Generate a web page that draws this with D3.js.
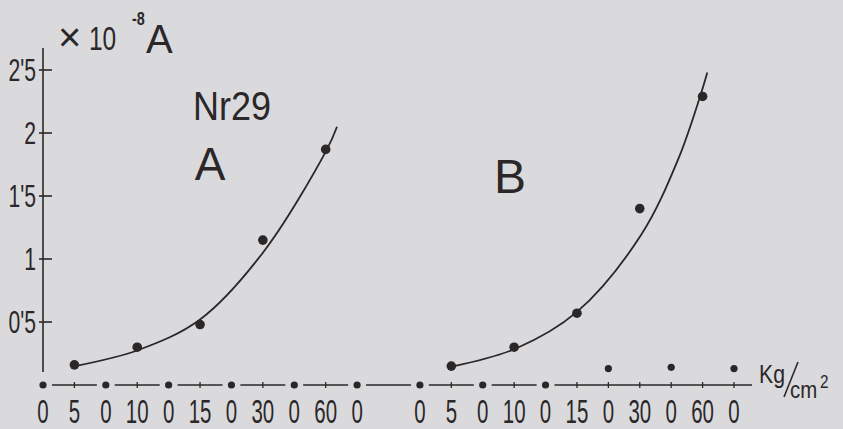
<!DOCTYPE html>
<html>
<head>
<meta charset="utf-8">
<script src="https://cdn.jsdelivr.net/npm/d3@7"></script>
<style>
  html, body { margin: 0; padding: 0; background: #dadadc; }
  svg { display: block; }
  text { font-family: "Liberation Sans", Arial, sans-serif; fill: #2b2729; }
</style>
</head>
<body>
<div class="chart"></div>
<script>
// pressure steps (kg/cm2) under each group, 0 = released
const pressureLabels = ['0', '5', '0', '10', '0', '15', '0', '30', '0', '60', '0'];
const groupOffsets = { A: 0, B: 12 };

// current (x10^-8 A) measured at the loaded steps 5, 10, 15, 30, 60
const loadedSteps = [1, 3, 5, 7, 9];
const valuesA = [0.16, 0.3, 0.48, 1.15, 1.87];
const valuesB = [0.15, 0.3, 0.57, 1.4, 2.29];

// current at the released (0) steps
const releasedSteps = [0, 2, 4, 6, 8, 10];
const releasedA = [0, 0, 0, 0, 0, 0];
const releasedB = [0, 0, 0, 0.13, 0.14, 0.13];

// hand drawn fit curves as [step, value]
const curveA = [
  [1.02, 0.15], [3.06, 0.28], [5.0, 0.52], [7.0, 1.05], [9.04, 1.87], [9.36, 2.05]
];
const curveB = [
  [1.09, 0.15], [3.06, 0.29], [5.0, 0.58], [7.04, 1.19], [8.22, 1.79], [8.92, 2.29], [9.15, 2.48]
];

const yTicks = [0.5, 1, 1.5, 2, 2.5];
const yTickLabels = ["0'5", '1', "1'5", '2', "2'5"];

const ink = '#2b2729';
const bg = '#dadadc';
const width = 843;
const height = 429;

const svg = d3
  .select('.chart')
  .append('svg')
  .attr('width', width)
  .attr('height', height);

svg.append('rect').attr('width', width).attr('height', height).attr('fill', bg);

const x = d3.scaleLinear().domain([0, 22]).range([43, 734]);
const y = d3.scaleLinear().domain([0, 2.5]).range([385, 70]);

// condensed lettering: scale text horizontally
function label(x0, y0, str, size, sx, anchor) {
  return svg
    .append('text')
    .attr('transform', `translate(${x0},${y0}) scale(${sx},1)`)
    .attr('text-anchor', anchor || 'start')
    .attr('font-size', size)
    .text(str);
}

// y axis
svg
  .append('line')
  .attr('x1', x(0)).attr('x2', x(0))
  .attr('y1', 48).attr('y2', 372)
  .attr('stroke', ink).attr('stroke-width', 1.6);

yTicks.forEach((t, i) => {
  svg
    .append('line')
    .attr('x1', x(0) - 4).attr('x2', x(0) + 9)
    .attr('y1', y(t)).attr('y2', y(t))
    .attr('stroke', ink).attr('stroke-width', 1.6);
  label(36, y(t) + 11, yTickLabels[i], 32, 0.66, 'end');
});

// x baseline
svg
  .append('line')
  .attr('x1', x(0)).attr('x2', 752)
  .attr('y1', y(0)).attr('y2', y(0))
  .attr('stroke', ink).attr('stroke-width', 1.5);

Object.entries(groupOffsets).forEach(([g, off]) => {
  const released = g === 'A' ? releasedA : releasedB;
  pressureLabels.forEach((p, i) => {
    const idx = releasedSteps.indexOf(i);
    const onBase = idx >= 0 && released[idx] === 0;
    if (!onBase) {
      svg
        .append('line')
        .attr('x1', x(off + i)).attr('x2', x(off + i))
        .attr('y1', y(0) - 3).attr('y2', y(0) + 3)
        .attr('stroke', ink).attr('stroke-width', 1.3);
    }
    label(x(off + i), 423, p, 33, 0.62, 'middle');
  });
});

// released points, the ones on the baseline cut a gap in it
function drawReleased(values, off) {
  values.forEach((v, i) => {
    const cx = x(off + releasedSteps[i]);
    if (v === 0) {
      svg.append('circle').attr('cx', cx).attr('cy', y(0)).attr('r', 9).attr('fill', bg);
    }
    svg.append('circle').attr('cx', cx).attr('cy', y(v)).attr('r', 3.6).attr('fill', ink);
  });
}
drawReleased(releasedA, groupOffsets.A);
drawReleased(releasedB, groupOffsets.B);

// fit curves
const line = d3
  .line()
  .x((d) => d[0])
  .y((d) => d[1])
  .curve(d3.curveCatmullRom.alpha(0.5));

[[curveA, groupOffsets.A], [curveB, groupOffsets.B]].forEach(([c, off]) => {
  svg
    .append('path')
    .attr('d', line(c.map((d) => [x(off + d[0]), y(d[1])])))
    .attr('fill', 'none')
    .attr('stroke', ink)
    .attr('stroke-width', 1.8);
});

// loaded points
[[valuesA, groupOffsets.A], [valuesB, groupOffsets.B]].forEach(([vals, off]) => {
  svg
    .selectAll(null)
    .data(vals)
    .enter()
    .append('circle')
    .attr('cx', (d, i) => x(off + loadedSteps[i]))
    .attr('cy', (d) => y(d))
    .attr('r', 4.8)
    .attr('fill', ink);
});

// unit and titles
svg.append('text').attr('x', 58).attr('y', 51).attr('font-size', 40).text('\u00d7');
label(89, 50, '10', 34, 0.72);
label(132, 25, '-8', 18, 0.8).attr('font-weight', 'bold');
svg.append('text').attr('x', 146).attr('y', 53).attr('font-size', 40).text('A');

label(193, 120, 'Nr29', 40, 0.9);
svg.append('text').attr('x', 210).attr('y', 180).attr('text-anchor', 'middle').attr('font-size', 46).text('A');
svg.append('text').attr('x', 510).attr('y', 193).attr('text-anchor', 'middle').attr('font-size', 48).text('B');

// Kg/cm2
label(759, 383, 'Kg', 25, 0.85);
svg
  .append('line')
  .attr('x1', 784).attr('y1', 397)
  .attr('x2', 798).attr('y2', 362)
  .attr('stroke', ink).attr('stroke-width', 1.6);
label(790, 398, 'cm', 24, 0.85);
label(820, 388, '2', 18, 0.85);
</script>
</body>
</html>
